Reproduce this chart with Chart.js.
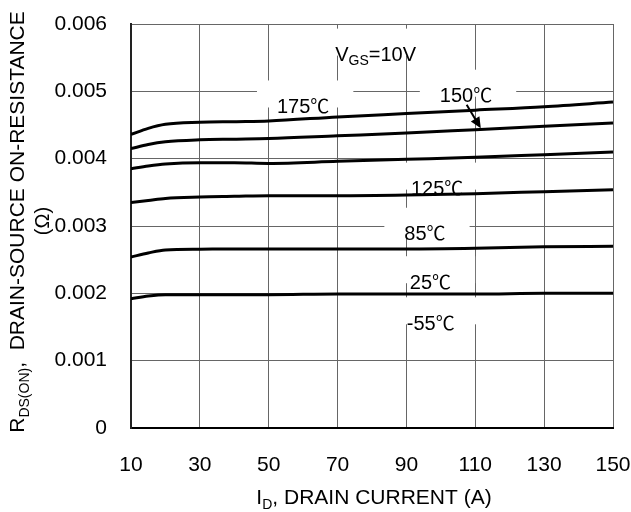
<!DOCTYPE html>
<html>
<head>
<meta charset="utf-8">
<script src="https://cdn.jsdelivr.net/npm/chart.js@4.4.0/dist/chart.umd.min.js"></script>
<style>
  html, body { margin: 0; padding: 0; background: #fff; }
  canvas { display: block; }
</style>
</head>
<body>
<canvas id="grafico" width="631" height="512"></canvas>
<script>
// ================== Datos ==================
const corriente = [10, 15, 20, 30, 40, 50, 70, 90, 110, 130, 150];   // I_D (A)

// R_DS(ON) en ohm para cada temperatura
const r175 = [0.00436, 0.00445, 0.00451, 0.00454, 0.00455, 0.00456, 0.00462, 0.00467, 0.00472, 0.00477, 0.00484];
const r150 = [0.00415, 0.00421, 0.00425, 0.00428, 0.00429, 0.00430, 0.00434, 0.00438, 0.00443, 0.00448, 0.00453];
const r125 = [0.00385, 0.00389, 0.00392, 0.00394, 0.00394, 0.00393, 0.00396, 0.00399, 0.00402, 0.00406, 0.00410];
const r85  = [0.00335, 0.00338, 0.00341, 0.00343, 0.00344, 0.00345, 0.00345, 0.00346, 0.00348, 0.00351, 0.00354];
const r25  = [0.00254, 0.00260, 0.002645, 0.002655, 0.00266, 0.00266, 0.00266, 0.00266, 0.00267, 0.00269, 0.00270];
const rm55 = [0.00192, 0.00196, 0.00198, 0.00198, 0.00198, 0.00198, 0.00199, 0.00199, 0.00199, 0.00200, 0.00200];

const series = [
  { nombre: "175℃", valores: r175 },
  { nombre: "150℃", valores: r150 },
  { nombre: "125℃", valores: r125 },
  { nombre: "85℃",  valores: r85 },
  { nombre: "25℃",  valores: r25 },
  { nombre: "-55℃", valores: rm55 }
];

const ticksX = [10, 30, 50, 70, 90, 110, 130, 150];
const ticksY = ["0", "0.001", "0.002", "0.003", "0.004", "0.005", "0.006"];

// Etiquetas dentro del grafico (posicion en unidades de datos: borde izq. y linea base)
const etiquetas = [
  { partes: [["V"], ["GS", "sub"], ["=10V"]], x: 69.3, y: 0.00545 },
  { partes: [["175"], ["℃", "cjk"]], x: 52.4, y: 0.00468 },
  { partes: [["150"], ["℃", "cjk"]], x: 99.7, y: 0.00484 },
  { partes: [["125"], ["℃", "cjk"]], x: 91.3, y: 0.00346 },
  { partes: [["85"], ["℃", "cjk"]],  x: 89.4, y: 0.00279 },
  { partes: [["25"], ["℃", "cjk"]],  x: 91.0, y: 0.00207 },
  { partes: [["-55"], ["℃", "cjk"]], x: 90.1, y: 0.00146 }
];
// Flecha de la etiqueta 150℃ hacia su curva
const flecha = { x1: 107.5, y1: 0.00480, x2: 111.6, y2: 0.00445 };

// ================== Util ==================
const FUENTE = '"Liberation Sans", Arial, sans-serif';
const FUENTE_CJK = '"Noto Sans CJK SC", "Liberation Sans", sans-serif';
const TAM = 21;      // ejes
const TAM_ET = 20;   // etiquetas internas

function textoRico(ctx, partes, x, y, tam, medir) {
  // Dibuja texto con subindices; devuelve el ancho total
  let cx = x;
  partes.forEach(([t, tipo]) => {
    const s = tipo === "sub" ? Math.round(tam * 0.68) : (tipo === "cjk" ? Math.round(tam * 0.95) : tam);
    ctx.font = `${s}px ${tipo === "cjk" ? FUENTE_CJK : FUENTE}`;
    if (!medir) ctx.fillText(t, cx, tipo === "sub" ? y + tam * 0.22 : y);
    cx += ctx.measureText(t).width;
  });
  return cx - x;
}

function sinPadding(sc) {
  sc.paddingTop = 0; sc.paddingBottom = 0; sc.paddingLeft = 0; sc.paddingRight = 0;
}

// ================== Plugin: etiquetas, flecha y titulos ==================
const pluginEtiquetas = {
  id: "etiquetas",
  beforeDatasetsDraw(chart) {
    const { ctx, chartArea: a, scales } = chart;
    ctx.save();
    ctx.beginPath();
    ctx.rect(a.left + 1, a.top + 1, a.right - a.left - 2, a.bottom - a.top - 2);
    ctx.clip();
    etiquetas.forEach(e => {
      const px = scales.x.getPixelForValue(e.x);
      const py = scales.y.getPixelForValue(e.y);
      const w = textoRico(ctx, e.partes, px, py, TAM_ET, true);
      const top = py - TAM_ET * 0.72;
      ctx.fillStyle = "#fff";
      ctx.fillRect(px - 20, top - 18, w + 44, 27);
    });
    ctx.restore();

    ctx.save();
    ctx.fillStyle = "#000";
    ctx.textAlign = "left";
    ctx.textBaseline = "alphabetic";
    etiquetas.forEach(e => {
      textoRico(ctx, e.partes, scales.x.getPixelForValue(e.x), scales.y.getPixelForValue(e.y), TAM_ET, false);
    });
    ctx.restore();
  },
  afterDraw(chart) {
    const { ctx, chartArea: a, scales } = chart;
    ctx.save();
    ctx.fillStyle = "#000";
    ctx.textBaseline = "alphabetic";
    // flecha
    const x1 = scales.x.getPixelForValue(flecha.x1), y1 = scales.y.getPixelForValue(flecha.y1);
    const x2 = scales.x.getPixelForValue(flecha.x2), y2 = scales.y.getPixelForValue(flecha.y2);
    const ang = Math.atan2(y2 - y1, x2 - x1);
    ctx.strokeStyle = "#000";
    ctx.lineWidth = 2;
    ctx.beginPath();
    ctx.moveTo(x1, y1);
    ctx.lineTo(x2 - 6 * Math.cos(ang), y2 - 6 * Math.sin(ang));
    ctx.stroke();
    ctx.beginPath();
    ctx.moveTo(x2, y2);
    ctx.lineTo(x2 - 11 * Math.cos(ang) + 5 * Math.sin(ang), y2 - 11 * Math.sin(ang) - 5 * Math.cos(ang));
    ctx.lineTo(x2 - 11 * Math.cos(ang) - 5 * Math.sin(ang), y2 - 11 * Math.sin(ang) + 5 * Math.cos(ang));
    ctx.closePath();
    ctx.fill();

    // titulo eje X
    const tituloX = [["I"], ["D", "sub"], [", DRAIN CURRENT (A)"]];
    const wx = textoRico(ctx, tituloX, 0, 0, TAM, true);
    textoRico(ctx, tituloX, (a.left + a.right) / 2 - wx / 2 + 2, 504, TAM, false);

    // titulo eje Y (rotado)
    const tituloY = [["R"], ["DS(ON)", "sub"], [",  DRAIN-SOURCE ON-RESISTANCE"]];
    const wy = textoRico(ctx, tituloY, 0, 0, TAM, true);
    ctx.save();
    ctx.translate(24, 222);
    ctx.rotate(-Math.PI / 2);
    textoRico(ctx, tituloY, -wy / 2, 0, TAM, false);
    ctx.restore();

    ctx.save();
    ctx.translate(49, 221);
    ctx.rotate(-Math.PI / 2);
    ctx.font = `${TAM - 1}px ${FUENTE}`;
    ctx.textAlign = "center";
    ctx.fillText("(Ω)", 0, 0);
    ctx.restore();

    ctx.restore();
  }
};

// ================== Grafica ==================
const chart = new Chart(document.getElementById("grafico"), {
  type: "line",
  data: {
    datasets: series.map(s => ({
      label: s.nombre,
      data: corriente.map((x, i) => ({ x: x, y: s.valores[i] })),
      borderColor: "#000",
      borderWidth: 3,
      pointRadius: 0,
      fill: false,
      cubicInterpolationMode: "monotone"
    }))
  },
  options: {
    responsive: false,
    animation: false,
    devicePixelRatio: 1,
    layout: { padding: { top: 24, right: 18, left: 0, bottom: 0 } },
    plugins: { legend: { display: false }, tooltip: { enabled: false } },
    scales: {
      x: {
        type: "linear",
        min: 10, max: 150,
        afterBuildTicks: sc => { sc.ticks = ticksX.map(v => ({ value: v })); },
        afterFit: sc => { sc.height = 84; sinPadding(sc); },
        grid: { color: "#666", lineWidth: 1, drawTicks: false },
        border: { color: "#000", width: 2 },
        ticks: { color: "#000", padding: 25, maxRotation: 0, font: { family: FUENTE, size: TAM }, callback: v => String(v) }
      },
      y: {
        min: 0, max: 0.006,
        afterBuildTicks: sc => { sc.ticks = ticksY.map(t => ({ value: parseFloat(t) })); },
        afterFit: sc => { sc.width = 131; sinPadding(sc); },
        grid: { color: "#666", lineWidth: 1, drawTicks: false },
        border: { color: "#222", width: 2 },
        ticks: {
          color: "#000", padding: 24, font: { family: FUENTE, size: TAM },
          callback: (v, i) => ticksY[i]
        }
      }
    }
  },
  plugins: [pluginEtiquetas]
});
</script>
</body>
</html>
